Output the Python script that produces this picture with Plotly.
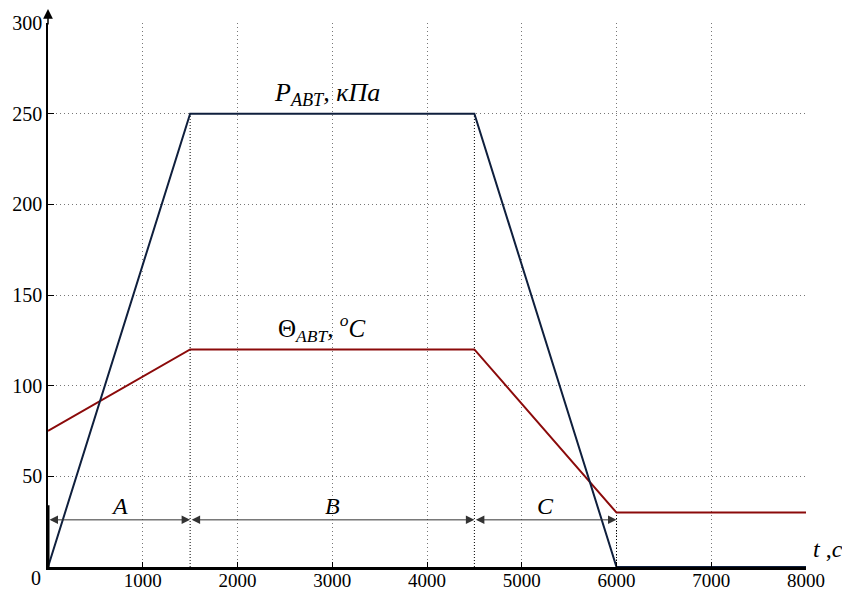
import plotly.graph_objects as go

# Data
t_p = [0, 1500, 4500, 6000, 8000]
p_abt = [0, 250, 250, 0, 0]
t_theta = [0, 1500, 4500, 6000, 8000]
theta_abt = [75, 120, 120, 30, 30]
x_ticks = [1000, 2000, 3000, 4000, 5000, 6000, 7000, 8000]
y_ticks = [50, 100, 150, 200, 250, 300]
# stage boundaries and their heights for dotted markers
stage_t = [0, 1500, 4500, 6000]
stage_top = [250, 250, 30]
stage_names = ["A", "B", "C"]
dim_y = 26

FONT = "Liberation Serif"
fig = go.Figure()

# dotted verticals at stage boundaries
for tx, top in zip(stage_t[1:], stage_top):
    fig.add_trace(go.Scatter(x=[tx, tx], y=[0, top], mode="lines",
                             line=dict(color="black", width=1, dash="1px,2px"),
                             hoverinfo="skip", showlegend=False))

fig.add_trace(go.Scatter(x=t_theta, y=theta_abt, mode="lines",
                         line=dict(color="#8b0a0a", width=2), showlegend=False))
fig.add_trace(go.Scatter(x=t_p, y=p_abt, mode="lines",
                         line=dict(color="#0f1f3d", width=2), showlegend=False))

# short vertical mark at origin for dimension line
fig.add_shape(type="line", x0=0, x1=0, y0=0, y1=34, xref="x", yref="y",
              line=dict(color="black", width=3))

# dimension arrows
for i, name in enumerate(stage_names):
    x0, x1 = stage_t[i], stage_t[i + 1]
    fig.add_annotation(x=x1, y=dim_y, ax=x0, ay=dim_y, xref="x", yref="y",
                       axref="x", ayref="y", showarrow=True, arrowside="end+start",
                       arrowhead=2, arrowsize=1.7, arrowwidth=1, arrowcolor="#333",
                       text="")
    fig.add_annotation(x=(x0 + x1) / 2, y=dim_y, xref="x", yref="y", text="<i>%s</i>" % name,
                       showarrow=False, yanchor="bottom", yshift=-1,
                       font=dict(family=FONT, size=24, color="black"))

# curve labels
fig.add_annotation(x=2945, y=251, xref="x", yref="y",
                   text="<i>P<sub>ABT</sub>, кПа</i>", showarrow=False, yanchor="bottom",
                   font=dict(family=FONT, size=26, color="black"))
fig.add_annotation(x=2890, y=120.5, xref="x", yref="y",
                   text="Θ<sub><i>ABT</i></sub><i>, <sup>o</sup>C</i>", showarrow=False,
                   yanchor="bottom", font=dict(family=FONT, size=25, color="black"))

# y-axis arrow
fig.add_annotation(x=0, y=1.035, xref="x", yref="paper", ax=0, ay=22, axref="pixel",
                   ayref="pixel", showarrow=True, arrowhead=2, arrowsize=1.3,
                   arrowwidth=1.5, arrowcolor="black", text="")
# origin label
fig.add_annotation(x=-0.006, y=0.004, xref="paper", yref="paper", text="0",
                   showarrow=False, xanchor="right", yanchor="top",
                   font=dict(family=FONT, size=20, color="black"))
# axis name
fig.add_annotation(x=1.006, y=0.006, xref="paper", yref="paper", text="<i>t</i> ,<i>c</i>",
                   showarrow=False, xanchor="left", yanchor="bottom",
                   font=dict(family=FONT, size=24, color="black"))

fig.update_layout(
    width=842, height=582, margin=dict(l=40, r=44, t=15, b=23),
    plot_bgcolor="white", paper_bgcolor="white",
    font=dict(family=FONT, size=20, color="black"),
    xaxis=dict(range=[0, 8000], tickvals=x_ticks, ticks="inside", ticklen=5,
               tickcolor="black", showgrid=True, gridcolor="#777", griddash="1px,3px",
               gridwidth=1, showline=True, linecolor="black", linewidth=3,
               zeroline=False, fixedrange=True, automargin=False,
               ticklabelstandoff=-6,
               tickfont=dict(family=FONT, size=19)),
    yaxis=dict(range=[0, 300], tickvals=y_ticks, ticks="inside", ticklen=6,
               tickcolor="black", showgrid=True, gridcolor="#777", griddash="1px,3px",
               gridwidth=1, showline=True, linecolor="black", linewidth=1.5,
               zeroline=False, fixedrange=True, automargin=False,
               tickfont=dict(family=FONT, size=20)),
)

fig.write_html("out.html")
